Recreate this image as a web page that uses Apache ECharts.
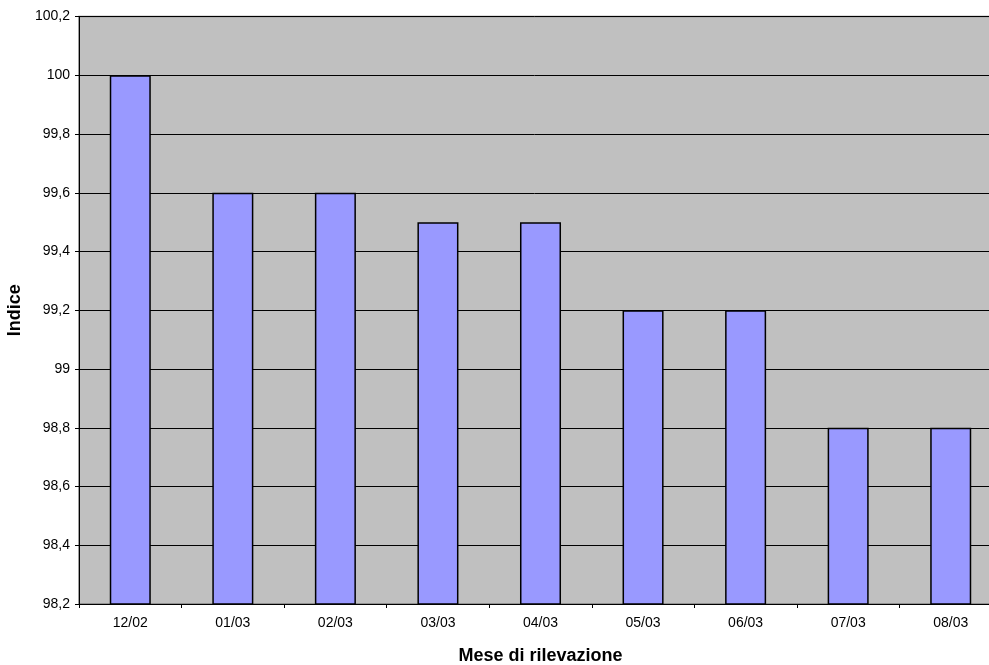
<!DOCTYPE html>
<html>
<head>
<meta charset="utf-8">
<script src="https://cdn.jsdelivr.net/npm/echarts@6/dist/echarts.min.js"></script>
<style>
  html, body { margin: 0; padding: 0; background: #fff; }
  #chart { width: 989px; height: 665px; }
</style>
</head>
<body>
<div id="chart"></div>
<script>
// Monthly index values
const months = ['12/02', '01/03', '02/03', '03/03', '04/03', '05/03', '06/03', '07/03', '08/03'];
const indexValues = [100, 99.6, 99.6, 99.5, 99.5, 99.2, 99.2, 98.8, 98.8];
const yMin = 98.2;
const yMax = 100.2;
const yStep = 0.2;

const font = 'Liberation Sans, Arial, sans-serif';
const chart = echarts.init(document.getElementById('chart'));

chart.setOption({
  animation: false,
  backgroundColor: '#ffffff',
  grid: {
    left: 79, width: 923, top: 16.5, height: 587.5,
    outerBoundsMode: 'none',
    containLabel: false,
    show: true, backgroundColor: '#c0c0c0', borderColor: '#808080', borderWidth: 1.5
  },
  xAxis: {
    type: 'category',
    data: months,
    name: 'Mese di rilevazione',
    nameLocation: 'middle',
    nameGap: 43,
    nameTextStyle: { fontFamily: font, fontSize: 18, fontWeight: 'bold', color: '#000' },
    axisLine: { lineStyle: { color: '#000', width: 1 } },
    axisTick: { show: true, alignWithLabel: false, length: 4, lineStyle: { color: '#000' } },
    axisLabel: { fontFamily: font, fontSize: 14, color: '#000', margin: 12 }
  },
  yAxis: {
    type: 'value',
    min: yMin,
    max: yMax,
    interval: yStep,
    name: 'Indice',
    nameLocation: 'middle',
    nameGap: 54,
    nameRotate: 90,
    nameTextStyle: { fontFamily: font, fontSize: 18, fontWeight: 'bold', color: '#000' },
    axisLine: { show: true, lineStyle: { color: '#000', width: 1 } },
    axisTick: { show: true, length: 4, lineStyle: { color: '#000' } },
    axisLabel: {
      fontFamily: font, fontSize: 14, color: '#000', margin: 9,
      formatter: v => {
        const r = Math.round(v * 10) / 10;
        return String(r).replace('.', ',');
      }
    },
    splitLine: { show: true, lineStyle: { color: '#000', width: 1 } }
  },
  series: [{
    type: 'bar',
    data: indexValues,
    barWidth: '40%',
    itemStyle: { color: '#9999ff', borderColor: '#000', borderWidth: 1.5 }
  }]
});
</script>
</body>
</html>
